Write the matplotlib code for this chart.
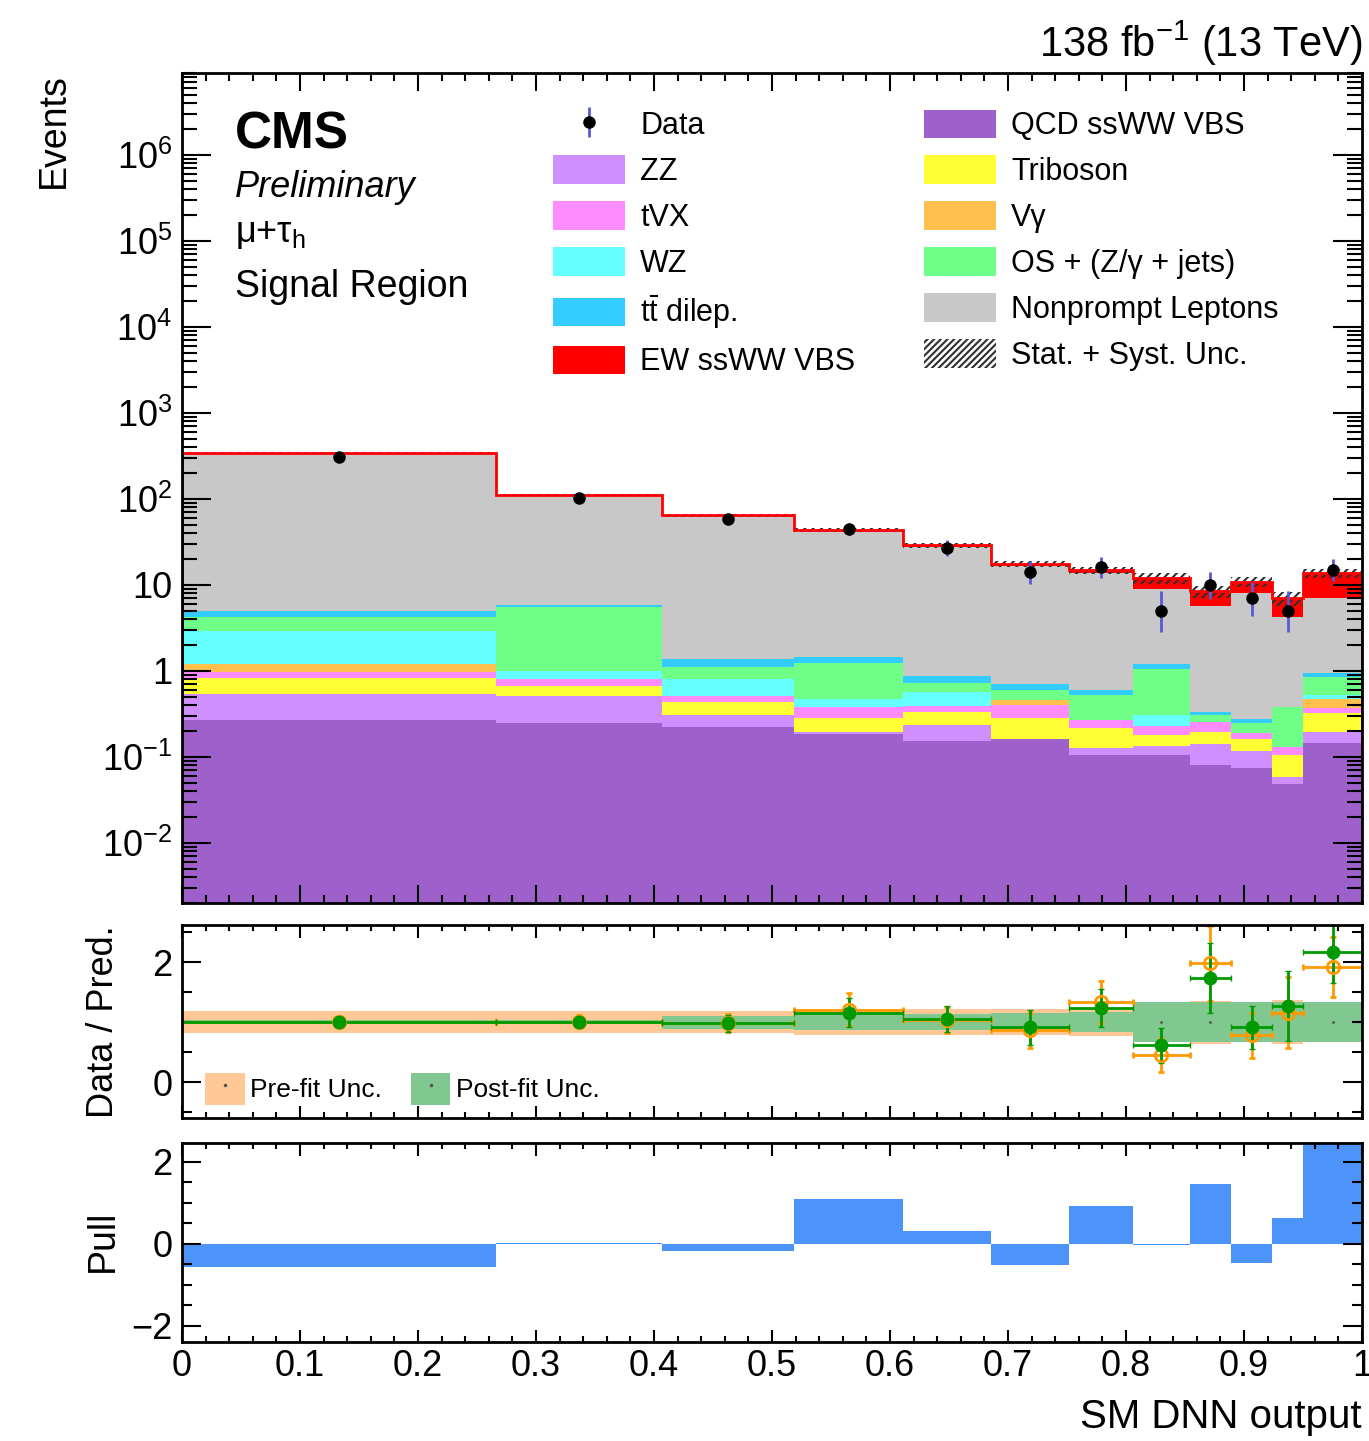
import numpy as np
import matplotlib.pyplot as plt
from matplotlib.patches import Patch
from matplotlib.lines import Line2D
from matplotlib.ticker import (FixedLocator, FixedFormatter, LogLocator,
                               MultipleLocator, FuncFormatter, NullFormatter)

plt.rcParams['font.family'] = ['Liberation Sans', 'DejaVu Sans']
plt.rcParams['mathtext.fontset'] = 'custom'
plt.rcParams['mathtext.rm'] = 'Liberation Sans'
plt.rcParams['mathtext.it'] = 'Liberation Sans:italic'
plt.rcParams['mathtext.bf'] = 'Liberation Sans:bold'
plt.rcParams['hatch.linewidth'] = 1.5

# binning of the SM DNN score
edges = np.array([0, 0.266, 0.407, 0.519, 0.611, 0.686, 0.752, 0.806,
                  0.854, 0.889, 0.924, 0.950, 1.0])

# expected yields per bin (stacked from the bottom up)
qcd_ssww = [0.27, 0.25, 0.225, 0.185, 0.153, 0.16, 0.105, 0.105, 0.081, 0.074, 0.0485, 0.144]
zz = [0.27, 0.26, 0.085, 0.012, 0.082, 0.003, 0.023, 0.03, 0.059, 0.043, 0.0105, 0.053]
triboson = [0.28, 0.15, 0.12, 0.083, 0.10, 0.12, 0.088, 0.045, 0.057, 0.043, 0.046, 0.123]
tvx = [0.16, 0.15, 0.08, 0.105, 0.054, 0.12, 0.054, 0.05, 0.06, 0.032, 0.027, 0.055]
vgamma = [0.23, 0.0, 0.0, 0.0, 0.0, 0.06, 0.0, 0.0, 0.0, 0.0, 0.0, 0.095]
wz = [1.73, 0.20, 0.29, 0.085, 0.185, 0.0, 0.0, 0.08, 0.0, 0.0, 0.0, 0.056]
os_zjets = [1.26, 4.59, 0.30, 0.78, 0.155, 0.14, 0.256, 0.74, 0.053, 0.054, 0.253, 0.314]
ttbar = [0.8, 0.25, 0.28, 0.22, 0.145, 0.106, 0.074, 0.16, 0.02, 0.028, 0.0, 0.10]
nonprompt = [334, 104, 62.8, 41.1, 27.1, 15.7, 13.1, 7.7, 5.4, 7.8, 3.9, 6.1]
ew_ssww = [1.0, 0.8, 0.8, 1.0, 1.0, 1.0, 1.2, 3.1, 2.7, 2.8, 2.7, 6.7]
unc_frac = [0.03, 0.03, 0.04, 0.05, 0.06, 0.08, 0.10, 0.14, 0.16, 0.14, 0.18, 0.12]

# observed data
data = [311, 102, 58, 45, 27, 14, 16, 5, 10, 7, 5, 15]
data_lo = [17.6, 10.1, 7.6, 6.7, 5.2, 3.7, 4.0, 2.2, 3.2, 2.6, 2.2, 3.9]
data_hi = [18.6, 11.1, 8.7, 7.7, 6.2, 4.8, 5.1, 3.4, 4.3, 3.8, 3.4, 5.0]

# data / prediction
ratio_post = [1.0, 1.01, 0.98, 1.16, 1.05, 0.91, 1.24, 0.61, 1.74, 0.91, 1.27, 2.17]
ratio_post_err = [0.05, 0.10, 0.14, 0.25, 0.22, 0.29, 0.32, 0.29, 0.58, 0.36, 0.59, 0.52]
ratio_pre = [1.0, 1.01, 0.98, 1.21, 1.03, 0.86, 1.33, 0.45, 1.98, 0.78, 1.16, 1.92]
ratio_pre_err = [0.06, 0.11, 0.15, 0.27, 0.22, 0.30, 0.35, 0.28, 0.62, 0.38, 0.60, 0.50]
band_post = [0.04, 0.04, 0.11, 0.14, 0.14, 0.15, 0.17, 0.33, 0.33, 0.33, 0.33, 0.33]
band_pre = [0.18, 0.18, 0.19, 0.22, 0.22, 0.22, 0.24, 0.33, 0.36, 0.33, 0.37, 0.33]

# pulls
pull = [-0.56, 0.03, -0.18, 1.09, 0.30, -0.51, 0.93, -0.02, 1.46, -0.48, 0.63, 2.6]

centers = 0.5 * (edges[1:] + edges[:-1])
halfw = 0.5 * np.diff(edges)

W, H = 1369., 1441.
fig = plt.figure(figsize=(W / 100, H / 100), dpi=100)


def box(l, t, r, b):
    return [l / W, 1 - b / H, (r - l) / W, (b - t) / H]


ax = fig.add_axes(box(182, 73, 1362, 903))
axr = fig.add_axes(box(182, 925, 1362, 1118))
axp = fig.add_axes(box(182, 1143, 1362, 1342))

# ---- main panel: stacked backgrounds
layers = [
    (qcd_ssww, '#9e61cc', 'QCD ssWW VBS'),
    (zz, '#cf8fff', 'ZZ'),
    (triboson, '#ffff33', 'Triboson'),
    (tvx, '#ff8cff', 'tVX'),
    (vgamma, '#ffc04d', 'Vγ'),
    (wz, '#66ffff', 'WZ'),
    (os_zjets, '#6fff88', 'OS + (Z/γ + jets)'),
    (ttbar, '#33ccff', r'$\mathrm{t\bar{t}}$ dilep.'),
    (nonprompt, '#c8c8c8', 'Nonprompt Leptons'),
    (ew_ssww, '#ff0000', 'EW ssWW VBS'),
]
bottom = np.full(len(centers), 1e-5)
patches = {}
for vals, col, lab in layers:
    top = bottom + np.asarray(vals)
    ax.stairs(top, edges, baseline=bottom, fill=True, color=col, lw=0)
    patches[lab] = Patch(facecolor=col, edgecolor='none', label=lab)
    bottom = top
total = bottom

unc = total * np.asarray(unc_frac)
ax.stairs(total + unc, edges, baseline=total - unc, fill=True,
          facecolor='none', edgecolor='#303030', hatch='////', lw=0)
ax.stairs(total, edges, color='red', lw=2)

dat = ax.errorbar(centers, data, yerr=[data_lo, data_hi], fmt='o', color='black',
                  ecolor='#5a5ad0', elinewidth=2, ms=8, zorder=5)

ax.set_yscale('log')
ax.set_ylim(2e-3, 9e6)
ax.yaxis.set_major_locator(FixedLocator(10.0 ** np.arange(-2, 7)))
ax.yaxis.set_major_formatter(FixedFormatter(
    [r'$10^{-2}$', r'$10^{-1}$', '1', '10', r'$10^{2}$', r'$10^{3}$',
     r'$10^{4}$', r'$10^{5}$', r'$10^{6}$']))
ax.yaxis.set_minor_locator(LogLocator(base=10, subs=np.arange(2, 10), numticks=100))
ax.yaxis.set_minor_formatter(NullFormatter())
ax.set_ylabel('Events', fontsize=27, loc='top')
ax.yaxis.set_label_coords(-0.093, 1.0)

ax.text(0.045, 0.9096, 'CMS', transform=ax.transAxes, fontsize=37,
        fontweight='bold', va='baseline')
ax.text(0.045, 0.8506, 'Preliminary', transform=ax.transAxes, fontsize=26,
        style='italic', va='baseline')
ax.text(0.045, 0.796, r'μ+τ$_{\mathrm{h}}$', transform=ax.transAxes, fontsize=26,
        va='baseline')
ax.text(0.045, 0.730, 'Signal Region', transform=ax.transAxes, fontsize=27,
        va='baseline')
ax.text(1.0, 1.019, r'138 fb$^{-1}$ (13 TeV)', transform=ax.transAxes,
        fontsize=30, ha='right', va='baseline')

unc_patch = Patch(facecolor='none', edgecolor='#303030', hatch='/////', lw=0,
                  label='Stat. + Syst. Unc.')
handles = [dat, patches['ZZ'], patches['tVX'], patches['WZ'],
           patches[r'$\mathrm{t\bar{t}}$ dilep.'], patches['EW ssWW VBS'],
           patches['QCD ssWW VBS'], patches['Triboson'], patches['Vγ'],
           patches['OS + (Z/γ + jets)'], patches['Nonprompt Leptons'], unc_patch]
labels = ['Data', 'ZZ', 'tVX', 'WZ', r'$\mathrm{t\bar{t}}$ dilep.', 'EW ssWW VBS',
          'QCD ssWW VBS', 'Triboson', 'Vγ', 'OS + (Z/γ + jets)',
          'Nonprompt Leptons', 'Stat. + Syst. Unc.']
ax.legend(handles, labels, ncol=2, loc='upper left', bbox_to_anchor=(0.3144, 0.956),
          frameon=False, fontsize=22, borderpad=0, borderaxespad=0,
          handlelength=2.35, handleheight=1.05, handletextpad=0.5,
          labelspacing=0.47, columnspacing=2.25)

# ---- ratio panel
axr.stairs(1 + np.asarray(band_pre), edges, baseline=1 - np.asarray(band_pre),
           fill=True, color='#ffc896', lw=0)
axr.stairs(1 + np.asarray(band_post), edges, baseline=1 - np.asarray(band_post),
           fill=True, color='#80c890', lw=0)
axr.plot(centers, np.ones_like(centers), ls='none', marker='.', ms=2, color='#555555')
axr.errorbar(centers, ratio_pre, xerr=halfw, yerr=ratio_pre_err, fmt='o',
             mfc='none', mec='#ff9900', color='#ff9900', ms=9, mew=2,
             elinewidth=2, capsize=2)
axr.errorbar(centers, ratio_post, xerr=halfw, yerr=ratio_post_err, fmt='o',
             color='#009a00', ms=9, elinewidth=2, capsize=2)
axr.set_ylim(-0.6, 2.62)
axr.yaxis.set_major_locator(FixedLocator([0, 2]))
axr.yaxis.set_minor_locator(MultipleLocator(0.5))
axr.set_ylabel('Data / Pred.', fontsize=26)
axr.yaxis.set_label_coords(-0.052, 0.5)
rl_pre = (Patch(facecolor='#ffc896', edgecolor='none'),
          Line2D([], [], ls='none', marker='.', ms=3, color='#555555'))
rl_post = (Patch(facecolor='#80c890', edgecolor='none'),
           Line2D([], [], ls='none', marker='.', ms=3, color='#555555'))
axr.legend([rl_pre, rl_post], ['Pre-fit Unc.', 'Post-fit Unc.'], ncol=2,
           loc='lower left', bbox_to_anchor=(0.0195, 0.068), frameon=False,
           fontsize=19, borderpad=0, borderaxespad=0, handlelength=1.5,
           handleheight=1.5, handletextpad=0.2, columnspacing=1.1)

# ---- pull panel
axp.stairs(pull, edges, baseline=0, fill=True, color='#4d94fa', lw=0)
axp.set_ylim(-2.4, 2.46)
axp.yaxis.set_major_locator(FixedLocator([-2, 0, 2]))
axp.yaxis.set_minor_locator(MultipleLocator(0.5))
axp.set_ylabel('Pull', fontsize=27)
axp.yaxis.set_label_coords(-0.052, 0.51)
axp.set_xlabel('SM DNN output', fontsize=29, loc='right', labelpad=10)
axp.xaxis.set_major_formatter(FuncFormatter(lambda v, p: f'{v:g}'))

# ---- common axis styling
for a in (ax, axr, axp):
    a.set_xlim(0, 1)
    a.xaxis.set_major_locator(MultipleLocator(0.1))
    a.xaxis.set_minor_locator(MultipleLocator(0.02))
    a.tick_params(which='both', direction='in', top=True, right=True,
                  width=1.5, labelsize=26, pad=7)
    for s in a.spines.values():
        s.set_linewidth(2)
ax.tick_params(axis='x', which='major', length=13)
ax.tick_params(axis='x', which='minor', length=6)
ax.tick_params(axis='y', which='major', length=21)
ax.tick_params(axis='y', which='minor', length=11)
for a in (axr, axp):
    a.tick_params(axis='x', which='major', length=9)
    a.tick_params(axis='x', which='minor', length=4)
    a.tick_params(axis='y', which='major', length=14)
    a.tick_params(axis='y', which='minor', length=7)
ax.tick_params(axis='x', labelbottom=False)
axr.tick_params(axis='x', labelbottom=False)
axp.tick_params(axis='x', pad=5)

fig.savefig('out.png', dpi=100)
